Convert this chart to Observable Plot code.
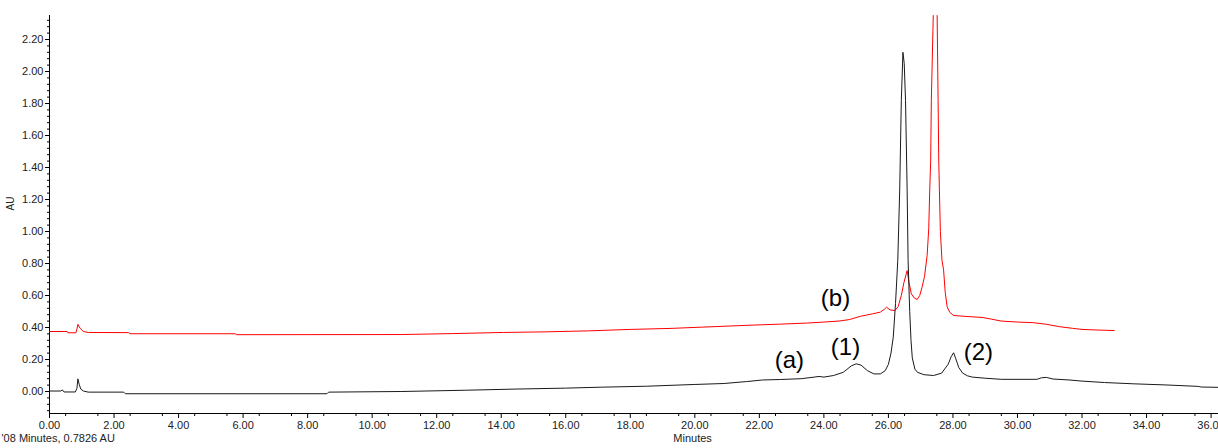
<!DOCTYPE html>
<html><head><meta charset="utf-8">
<script src="https://cdn.jsdelivr.net/npm/d3@7"></script>
<script src="https://cdn.jsdelivr.net/npm/@observablehq/plot@0.6"></script>
<style>html,body{margin:0;padding:0;background:#fff;} #chart svg{display:block}</style>
</head><body><div id="chart"></div>
<script>
// Trace (a) – black
const timeA = [0,0.35,0.4,0.45,0.8,0.85,0.88,0.92,0.97,1.05,1.2,2.3,2.35,8.6,8.65,10.9,12.9,14.4,16.0,17.1,18.5,20.0,20.9,21.6,22.1,22.65,23.3,23.7,23.85,24.0,24.3,24.6,24.85,25.0,25.15,25.35,25.55,25.75,25.9,26.0,26.08,26.15,26.22,26.29,26.35,26.4,26.45,26.49,26.53,26.58,26.61,26.66,26.7,26.74,26.82,26.9,27.1,27.4,27.65,27.85,27.95,28.02,28.08,28.18,28.3,28.45,28.6,29.0,29.5,30.6,30.75,30.9,31.1,31.6,32.0,32.7,33.6,34.6,35.6,35.7,36.23];
const valueA = [0.003,0.003,0.01,-0.003,-0.003,0.02,0.079,0.045,0.015,0.003,-0.004,-0.004,-0.014,-0.014,-0.004,0.0,0.008,0.015,0.021,0.027,0.033,0.044,0.05,0.062,0.072,0.075,0.08,0.09,0.094,0.09,0.1,0.12,0.16,0.173,0.165,0.13,0.11,0.11,0.13,0.17,0.24,0.34,0.55,0.82,1.26,1.82,2.12,2.05,1.82,1.26,0.82,0.5,0.32,0.21,0.14,0.12,0.105,0.1,0.115,0.17,0.22,0.242,0.21,0.15,0.115,0.098,0.09,0.083,0.076,0.076,0.086,0.088,0.078,0.072,0.065,0.056,0.048,0.041,0.032,0.028,0.026];
// Trace (b) – red
const timeB = [0,0.55,0.57,0.82,0.85,0.88,0.95,1.05,1.2,2.45,2.5,5.75,5.8,10.9,12.48,14.07,15.42,16.7,18.0,19.2,20.2,21.4,22.65,23.5,24.0,24.5,24.8,25.13,25.5,25.75,25.88,25.94,26.05,26.2,26.3,26.4,26.48,26.58,26.64,26.71,26.8,26.89,26.97,27.04,27.12,27.2,27.25,27.28,27.31,27.33,27.39,27.45,27.51,27.54,27.56,27.58,27.61,27.66,27.71,27.76,27.82,27.9,28.02,28.5,28.9,29.2,29.5,30.0,30.5,30.9,31.3,31.7,32.0,32.5,33.0];
const valueB = [0.375,0.375,0.367,0.367,0.39,0.42,0.395,0.375,0.369,0.368,0.361,0.361,0.355,0.356,0.362,0.369,0.373,0.379,0.388,0.394,0.402,0.412,0.421,0.428,0.434,0.441,0.45,0.47,0.485,0.496,0.515,0.527,0.51,0.506,0.53,0.6,0.68,0.756,0.68,0.61,0.585,0.575,0.6,0.65,0.72,0.85,1.02,1.26,1.44,1.82,2.35,2.6,2.35,1.82,1.44,1.26,1.0,0.82,0.76,0.62,0.53,0.495,0.475,0.468,0.463,0.452,0.44,0.434,0.43,0.42,0.405,0.395,0.388,0.384,0.381];
// Annotations
const noteText = ["(a)","(1)","(b)","(2)"];
const noteX = [22.93,24.67,24.36,28.79];
const noteY = [0.194,0.277,0.584,0.246];
// Axis ticks
const xTicks = [0,2,4,6,8,10,12,14,16,18,20,22,24,26,28,30,32,34,36];
const yTicks = [0,0.2,0.4,0.6,0.8,1.0,1.2,1.4,1.6,1.8,2.0,2.2];
const xDomain = [0, 36.23];
const yDomain = [-0.1375, 2.35];

const xMinor = d3.range(1, 73, 2).map(i => i * 0.5).filter(v => v <= xDomain[1]);
const yMinor = d3.range(-3, 59).filter(i => i % 5 !== 0).map(i => +(i * 0.04).toFixed(2));

const lineA = timeA.map((t, i) => ({t, v: valueA[i]}));
const lineB = timeB.map((t, i) => ({t, v: valueB[i]}));
const notes = noteText.map((s, i) => ({s, x: noteX[i], y: noteY[i]}));

const chart = Plot.plot({
  width: 1218,
  height: 448,
  marginLeft: 49,
  marginRight: 0,
  marginTop: 15,
  marginBottom: 35,
  x: {domain: xDomain},
  y: {domain: yDomain},
  style: {fontFamily: "'Liberation Sans', Arial, sans-serif", fontSize: "11px", color: "#222", background: "#fff"},
  marks: [
    Plot.axisX({ticks: xMinor, tickSize: 3, tickFormat: () => "", label: null, stroke: "#000"}),
    Plot.axisX({ticks: xTicks, tickSize: 5, tickPadding: 3, tickFormat: d => d.toFixed(2), label: null, stroke: "#000", fill: "#222"}),
    Plot.axisY({ticks: yMinor, tickSize: 2, tickFormat: () => "", label: null, stroke: "#000"}),
    Plot.axisY({ticks: yTicks, tickSize: 4, tickPadding: 2, tickFormat: d => d.toFixed(2), label: null, stroke: "#000", fill: "#222"}),
    Plot.ruleX([0], {stroke: "#000"}),
    Plot.ruleY([yDomain[0]], {stroke: "#000"}),
    Plot.line(lineB, {x: "t", y: "v", stroke: "#ff0000", strokeWidth: 1, clip: true}),
    Plot.line(lineA, {x: "t", y: "v", stroke: "#1a1a1a", strokeWidth: 1, clip: true}),
    Plot.text(notes, {x: "x", y: "y", text: "s", fontSize: 24, fill: "#000"}),
    Plot.text([{s: "Minutes", x: 19.93}], {x: "x", text: "s", frameAnchor: "bottom", dy: 28, fontSize: 11, fill: "#222"}),
    Plot.text([{s: "'08 Minutes, 0.7826 AU"}], {text: "s", frameAnchor: "bottom-left", dx: -48, dy: 28, textAnchor: "start", fontSize: 11, fill: "#222"}),
    Plot.text([{s: "AU"}], {text: "s", frameAnchor: "left", dx: -39, dy: -4, rotate: -90, fontSize: 10, fill: "#222"})
  ]
});
document.getElementById("chart").append(chart);
</script></body></html>
